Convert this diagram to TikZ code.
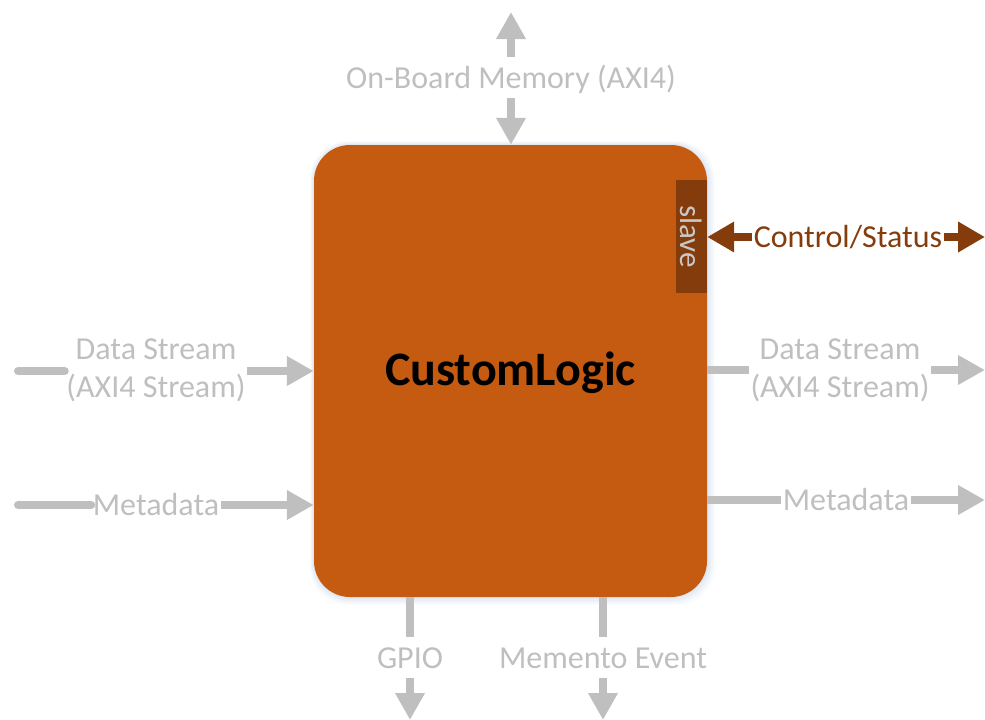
\documentclass[tikz,border=0pt]{standalone}
\usepackage{fontspec}
\setmainfont{Carlito}
\usetikzlibrary{arrows.meta}
\definecolor{lgray}{RGB}{191,191,191}
\definecolor{slavetext}{RGB}{200,200,200}
\definecolor{clorange}{RGB}{197,90,17}
\definecolor{clbrown}{RGB}{132,60,12}
\definecolor{glow}{RGB}{200,215,235}
\tikzset{
  lbl/.style={text=lgray, font=\fontsize{32}{38}\selectfont, inner xsep=1.5pt, inner ysep=0pt},
  vlbl/.style={lbl, text height=21pt, text depth=0pt, inner ysep=10pt},
  gline/.style={draw=lgray, line width=8pt},
  garrow/.style={gline, -{Triangle[length=27pt,width=28pt]}},
  barrow/.style={draw=clbrown, line width=8pt, -{Triangle[length=27pt,width=29pt]}},
  mainbox/.style={fill=clorange, rounded corners=36pt, minimum width=393pt, minimum height=452pt,
    font=\bfseries\fontsize{48}{56}\selectfont, text=black, text depth=4pt},
  slavebox/.style={fill=clbrown, text=slavetext, font=\fontsize{31}{37}\selectfont,
    minimum width=113pt, minimum height=31pt, inner sep=0pt}
}
\begin{document}
\begin{tikzpicture}[x=1pt,y=-1pt]
\useasboundingbox (0,0) rectangle (985,720);
% glow behind box
\foreach \o/\op in {8/0.10,6/0.15,4/0.2,2/0.3}{
  \fill[glow, opacity=\op, rounded corners=38pt] (314-\o/2,145-\o/2) rectangle (707+\o,597+\o);
}
\node[mainbox] (cl) at (510.5,371) {CustomLogic};
\node[slavebox, rotate=-90] (sl) at (691.5,236.5) {slave};

% top memory
\node[vlbl] (mem) at (511,77.5) {On-Board Memory (AXI4)};
\coordinate (memtop) at (511,12);
\draw[garrow] (mem.north) -- (memtop);
\draw[garrow] (mem.south) -- (mem.south |- cl.north);

% control/status
\node[lbl, text=clbrown] (cs) at (848,237) {Control/Status};
\coordinate (csout) at (985,237);
\draw[barrow] (cs.west) -- (cs.west -| cl.east);
\draw[barrow] (cs.east) -- (csout);

% left data stream
\node[lbl, align=center] (dsl) at (156,370) {Data Stream\\(AXI4 Stream)};
\coordinate (dslin) at (18,371);
\draw[gline, line cap=round] (dslin) -- (dslin -| dsl.west);
\draw[garrow] (dsl.east |- dslin) -- (dslin -| cl.west);

% left metadata
\node[lbl] (mdl) at (156,505) {Metadata};
\coordinate (mdlin) at (18,505);
\draw[gline, line cap=round] (mdlin) -- (mdl.west);
\draw[garrow] (mdl.east) -- (mdl.east -| cl.west);

% right data stream
\node[lbl, align=center] (dsr) at (840,370) {Data Stream\\(AXI4 Stream)};
\coordinate (dsrout) at (985,370);
\draw[gline] (dsrout -| cl.east) -- (dsrout -| dsr.west);
\draw[garrow] (dsrout -| dsr.east) -- (dsrout);

% right metadata
\node[lbl] (mdr) at (846,500) {Metadata};
\coordinate (mdrout) at (985,500);
\draw[gline] (mdr.west -| cl.east) -- (mdr.west);
\draw[garrow] (mdr.east) -- (mdrout);

% bottom GPIO
\node[vlbl] (gpio) at (410,657.5) {GPIO};
\coordinate (gpioout) at (410,720);
\draw[gline] (gpio.north |- cl.south) -- (gpio.north);
\draw[garrow] (gpio.south) -- (gpioout);

% bottom memento
\node[vlbl] (mev) at (603,657.5) {Memento Event};
\coordinate (mevout) at (603,720);
\draw[gline] (mev.north |- cl.south) -- (mev.north);
\draw[garrow] (mev.south) -- (mevout);
\end{tikzpicture}
\end{document}
